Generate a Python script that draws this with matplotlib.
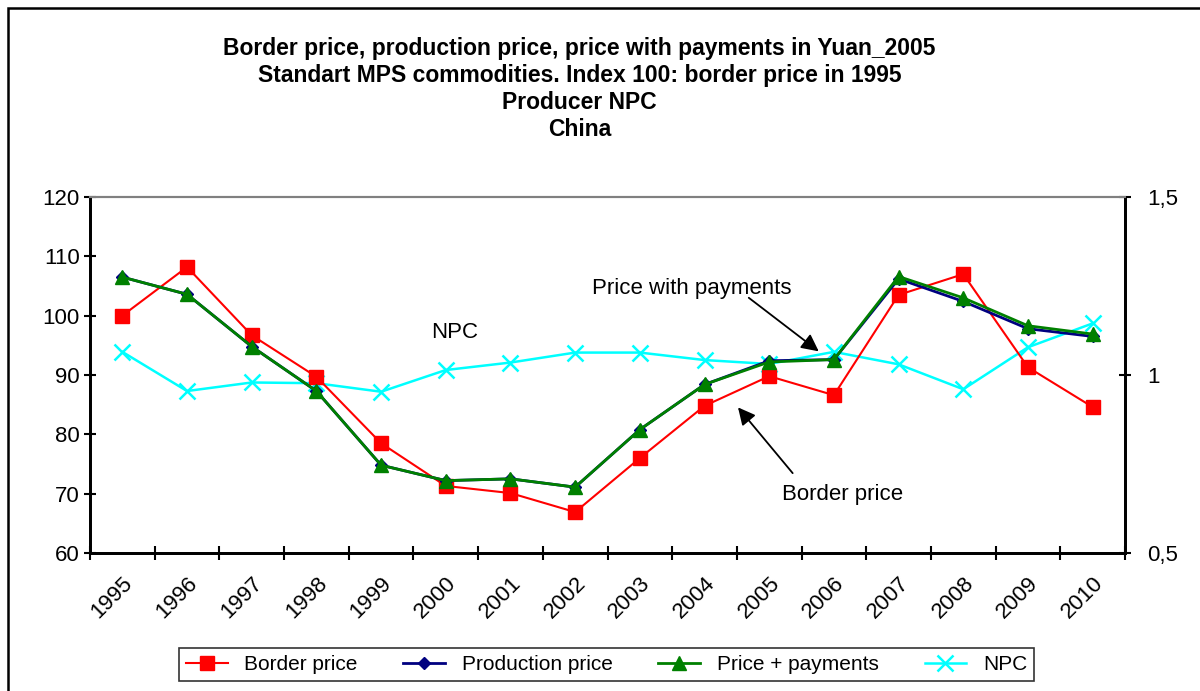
import numpy as np
import matplotlib
matplotlib.use("Agg")
import matplotlib.pyplot as plt
from matplotlib.patches import Rectangle

plt.rcParams['font.family'] = ['Liberation Sans', 'DejaVu Sans']

years = [str(y) for y in range(1995, 2011)]
border_price = [100.0, 108.2, 96.7, 89.7, 78.5, 71.3, 70.1, 66.9,
                76.0, 84.8, 89.8, 86.6, 103.5, 107.0, 91.3, 84.6]
production_price = [106.5, 103.6, 94.8, 87.3, 74.8, 72.2, 72.5, 71.1,
                    80.8, 88.4, 92.4, 92.6, 106.2, 102.4, 97.8, 96.5]
price_payments = [106.5, 103.6, 94.8, 87.3, 74.8, 72.2, 72.5, 71.1,
                  80.8, 88.4, 92.2, 92.6, 106.6, 103.0, 98.3, 96.9]
npc = [1.065, 0.955, 0.979, 0.977, 0.953, 1.014, 1.035, 1.063,
       1.063, 1.042, 1.031, 1.065, 1.030, 0.960, 1.078, 1.145]

left_ticks = [60, 70, 80, 90, 100, 110, 120]
right_ticks = [0.5, 1.0, 1.5]
right_labels = ['0,5', '1', '1,5']

title = ("Border price, production price, price with payments in Yuan_2005\n"
         "Standart MPS commodities. Index 100: border price in 1995\n"
         "Producer NPC\nChina")

fig = plt.figure(figsize=(12, 6.91), dpi=100)
ax = fig.add_axes([0.075, 0.1997, 0.8625, 0.5152])
ax2 = ax.twinx()

x = np.arange(len(years))
h1, = ax.plot(x, border_price, color='#ff0000', lw=1.5, marker='s', ms=10,
              label='Border price', zorder=3)
h2, = ax.plot(x, production_price, color='#000080', lw=2, marker='D', ms=6,
              label='Production price', zorder=4)
h3, = ax.plot(x, price_payments, color='#008000', lw=2, marker='^', ms=10,
              label='Price + payments', zorder=5)
h4, = ax2.plot(x, npc, color='#00ffff', lw=1.8, marker='x', ms=11, mew=1.8,
               label='NPC')

ax.set_xlim(-0.5, len(years) - 0.5)
ax.set_ylim(60, 120)
ax.set_yticks(left_ticks)
ax.tick_params(axis='y', labelsize=16, direction='inout', length=8, width=1.5)
ax.set_xticks(np.arange(len(years) + 1) - 0.5, minor=False)
ax.set_xticklabels([])
ax.set_xticks(x, minor=True)
ax.set_xticklabels(years, minor=True, rotation=45, ha='right',
                   rotation_mode='anchor', fontsize=16)
ax.tick_params(axis='x', which='major', direction='inout', length=10, width=1.5)
ax.tick_params(axis='x', which='minor', length=0, pad=14)

ax2.set_ylim(0.5, 1.5)
ax2.set_yticks(right_ticks)
ax2.set_yticklabels(right_labels)
ax2.tick_params(axis='y', labelsize=16, direction='inout', length=8, width=1.5, pad=12)

for a in (ax, ax2):
    for s in ('left', 'right', 'bottom'):
        a.spines[s].set_linewidth(2)
    a.spines['top'].set_color('#808080')
    a.spines['top'].set_linewidth(1.5)

# main series above the NPC line
ax.set_zorder(ax2.get_zorder() + 1)
ax.patch.set_visible(False)

ax.text(5.14, 97.2, 'NPC', fontsize=16, ha='center', va='center')
ax.text(8.81, 104.5, 'Price with payments', fontsize=16, ha='center', va='center')
ax.annotate('', xy=(10.8, 93.7), xytext=(9.65, 103.3),
            arrowprops=dict(arrowstyle='-|>', color='black', lw=1.3,
                            mutation_scale=26))
ax.text(11.13, 69.8, 'Border price', fontsize=16, ha='center', va='center')
ax.annotate('', xy=(9.49, 84.9), xytext=(10.39, 73.1),
            arrowprops=dict(arrowstyle='-|>', color='black', lw=1.3,
                            mutation_scale=26))

fig.suptitle(title, x=0.483, y=0.947, fontsize=16.5, fontweight='bold',
             linespacing=1.22, va='top')

leg = fig.legend(handles=[h1, h2, h3, h4], loc='center', ncol=4,
                 bbox_to_anchor=(0.5054, 0.0383), fontsize=15, frameon=True,
                 fancybox=False, edgecolor='black', handlelength=2.0,
                 columnspacing=2.2, borderpad=0.35)
leg.get_frame().set_linewidth(1.2)

fig.patches.append(Rectangle((8 / 1200, -0.05), 1.1, 1.05 - 8 / 691,
                             transform=fig.transFigure, fill=False,
                             edgecolor='black', lw=1.8, zorder=0))

fig.savefig('out.png', dpi=100)
